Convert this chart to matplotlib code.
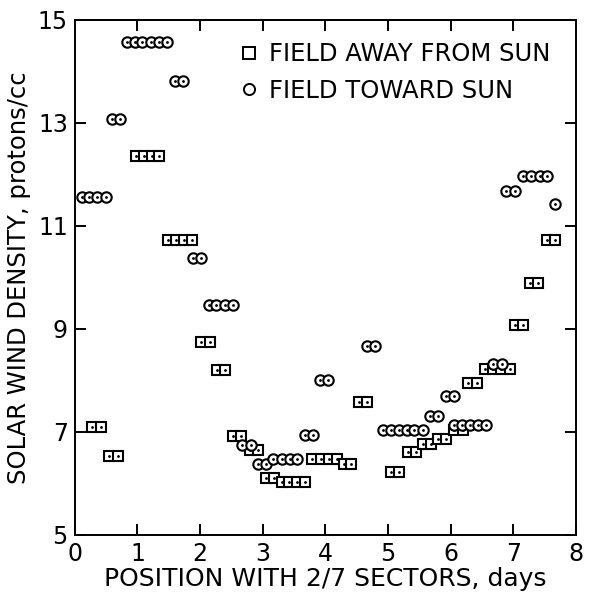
import numpy as np
import matplotlib
matplotlib.use('Agg')
from matplotlib import pyplot as plt
from matplotlib.lines import Line2D

# field toward sun (circles): position in days, density in protons/cc
toward_x = [0.11, 0.23, 0.36, 0.49,
            0.60, 0.72,
            0.83, 0.96, 1.08, 1.21, 1.34, 1.47,
            1.60, 1.73,
            1.88, 2.01,
            2.14, 2.26, 2.39, 2.52,
            2.67, 2.81,
            2.92, 3.05,
            3.17, 3.30, 3.43, 3.55,
            3.67, 3.80,
            3.91, 4.04,
            4.66, 4.79,
            4.92, 5.04, 5.17, 5.30, 5.42, 5.55,
            5.67, 5.80,
            5.93, 6.06,
            6.06, 6.18, 6.30, 6.44, 6.57,
            6.68, 6.82,
            6.89, 7.02,
            7.15, 7.28, 7.42, 7.54,
            7.66]
toward_y = [11.55, 11.55, 11.55, 11.55,
            13.08, 13.08,
            14.56, 14.56, 14.56, 14.56, 14.56, 14.56,
            13.82, 13.82,
            10.38, 10.38,
            9.47, 9.47, 9.47, 9.47,
            6.75, 6.75,
            6.38, 6.38,
            6.47, 6.47, 6.47, 6.47,
            6.93, 6.93,
            8.01, 8.01,
            8.67, 8.67,
            7.04, 7.04, 7.04, 7.04, 7.04, 7.04,
            7.31, 7.31,
            7.69, 7.69,
            7.14, 7.14, 7.14, 7.14, 7.14,
            8.32, 8.32,
            11.68, 11.68,
            11.97, 11.97, 11.97, 11.97,
            11.43]

# field away from sun (squares)
away_x = [0.28, 0.42,
          0.55, 0.69,
          0.97, 1.10, 1.23, 1.35,
          1.49, 1.62, 1.75, 1.87,
          2.02, 2.15,
          2.27, 2.40,
          2.52, 2.66,
          2.80, 2.93,
          3.05, 3.18,
          3.30, 3.42, 3.55, 3.67,
          3.79, 3.93, 4.06, 4.18,
          4.29, 4.41,
          4.53, 4.66,
          5.04, 5.18,
          5.31, 5.44,
          5.56, 5.69,
          5.79, 5.93,
          6.06, 6.19,
          6.28, 6.42,
          6.54, 6.67, 6.81, 6.94,
          7.03, 7.16,
          7.27, 7.40,
          7.54, 7.66]
away_y = [7.10, 7.10,
          6.54, 6.54,
          12.36, 12.36, 12.36, 12.36,
          10.73, 10.73, 10.73, 10.73,
          8.74, 8.74,
          8.20, 8.20,
          6.92, 6.92,
          6.65, 6.65,
          6.11, 6.11,
          6.02, 6.02, 6.02, 6.02,
          6.47, 6.47, 6.47, 6.47,
          6.38, 6.38,
          7.58, 7.58,
          6.22, 6.22,
          6.60, 6.60,
          6.77, 6.77,
          6.86, 6.86,
          7.04, 7.04,
          7.95, 7.95,
          8.23, 8.23, 8.23, 8.23,
          9.08, 9.08,
          9.89, 9.89,
          10.72, 10.72]

x_ticks = [0, 1, 2, 3, 4, 5, 6, 7, 8]
y_ticks = [5, 7, 9, 11, 13, 15]
top_ticks = [1, 2, 3, 4, 5, 6, 7]

plt.rcParams['font.family'] = 'DejaVu Sans'
fig = plt.figure(figsize=(5.89, 5.99), dpi=100)
ax = fig.add_axes([0.127, 0.107, 0.851, 0.86])

ax.plot(away_x, away_y, ls='none', marker='s', ms=6.8, mfc='white', mec='black', mew=1.5)
ax.plot(away_x, away_y, ls='none', marker='.', ms=2, color='black')
ax.plot(toward_x, toward_y, ls='none', marker='o', ms=7.5, mfc='white', mec='black', mew=1.5)
ax.plot(toward_x, toward_y, ls='none', marker='.', ms=2, color='black')

ax.set_xlim(0, 8)
ax.set_ylim(5, 15)
ax.set_xticks(x_ticks)
ax.set_yticks(y_ticks)
ax.set_xticklabels([str(v) for v in x_ticks], fontsize=17)
ax.set_yticklabels([str(v) for v in y_ticks], fontsize=17)
ax.tick_params(direction='in', length=8, width=1.4, right=True, pad=5)

sec = ax.secondary_xaxis('top')
sec.set_xticks(top_ticks)
sec.set_xticklabels([])
sec.tick_params(direction='in', length=8, width=1.4)

for s in ax.spines.values():
    s.set_linewidth(1.4)
sec.spines['top'].set_linewidth(1.4)

ax.set_xlabel('POSITION WITH 2/7 SECTORS, days', fontsize=18, labelpad=1)
ax.set_ylabel('SOLAR WIND DENSITY, protons/cc', fontsize=17.5, labelpad=5)

handles = [Line2D([], [], ls='none', marker='s', ms=8, mfc='white', mec='black', mew=1.4),
           Line2D([], [], ls='none', marker='o', ms=8, mfc='white', mec='black', mew=1.4)]
ax.legend(handles, ['FIELD AWAY FROM SUN', 'FIELD TOWARD SUN'], loc='upper left',
          bbox_to_anchor=(0.285, 0.999), frameon=False, fontsize=17.5,
          handlelength=0.8, handletextpad=0.4, labelspacing=0.52)

fig.savefig('out.png', dpi=100)
